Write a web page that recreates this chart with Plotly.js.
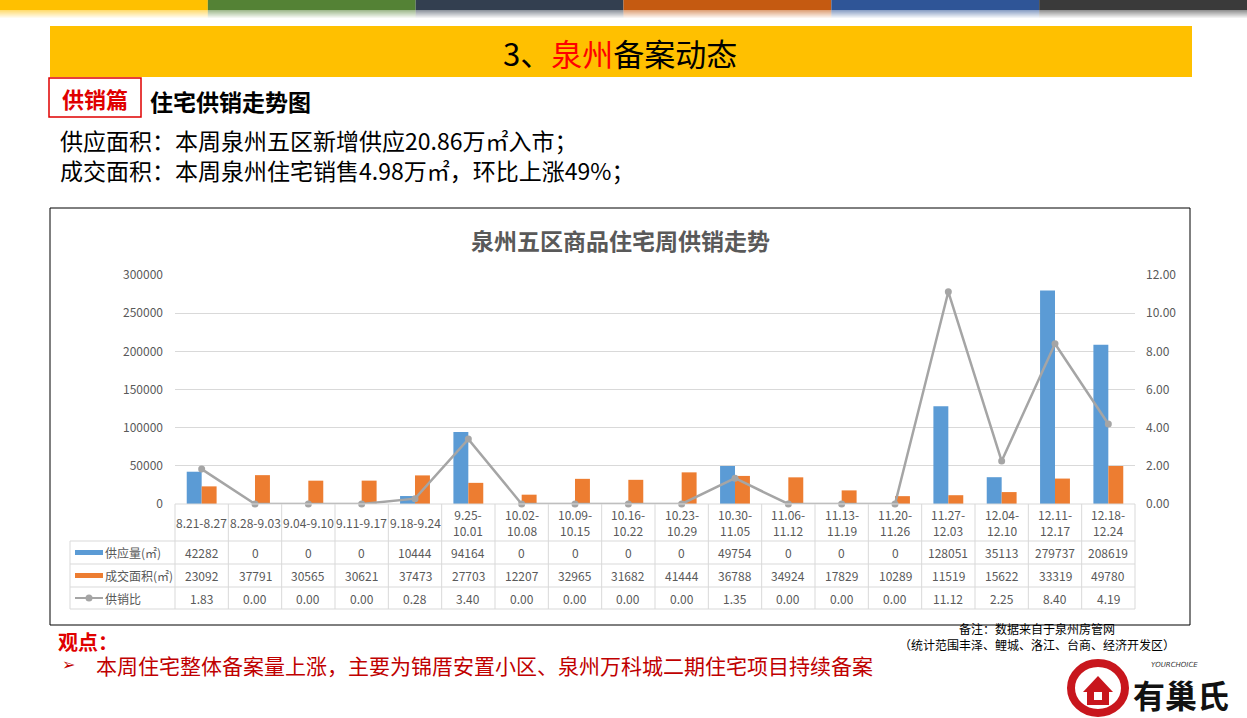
<!DOCTYPE html>
<html>
<head>
<meta charset="utf-8">
<script src="https://cdn.plot.ly/plotly-3.0.1.min.js"></script>
<style>
  html, body { margin: 0; padding: 0; background: #ffffff; }
  #chart { width: 1247px; height: 718px; }
</style>
</head>
<body>
<div id="chart"></div>
<script>
// ---------------- data ----------------
const categories = ['8.21-8.27','8.28-9.03','9.04-9.10','9.11-9.17','9.18-9.24','9.25-10.01','10.02-10.08','10.09-10.15','10.16-10.22','10.23-10.29','10.30-11.05','11.06-11.12','11.13-11.19','11.20-11.26','11.27-12.03','12.04-12.10','12.11-12.17','12.18-12.24'];
const supply = [42282,0,0,0,10444,94164,0,0,0,0,49754,0,0,0,128051,35113,279737,208619];
const deals  = [23092,37791,30565,30621,37473,27703,12207,32965,31682,41444,36788,34924,17829,10289,11519,15622,33319,49780];
const ratio  = [1.83,0,0,0,0.28,3.40,0,0,0,0,1.35,0,0,0,11.12,2.25,8.40,4.19];
const seriesNames = ['供应量(㎡)','成交面积(㎡)','供销比'];
const chartTitle = '泉州五区商品住宅周供销走势';
const stripColors = ['#FFC000','#548235','#333F50','#C55A11','#2F5597','#3A3A3A'];

// ---------------- geometry helpers ----------------
const W = 1247, H = 718;
const X = p => p / W;
const Y = p => 1 - p / H;
const F = 'Noto Sans CJK SC, Noto Sans, DejaVu Sans, sans-serif';
const GREY = '#595959';
const BLUE = '#5B9BD5', ORANGE = '#ED7D31', LINEG = '#A5A5A5';
const plotL = 175, plotR = 1135, plotT = 275, plotB = 504;
const rowEdges = [504, 541, 564, 587, 609];

const shapes = [];
const annotations = [];

// top colour strip with fade
const segW = W / stripColors.length;
stripColors.forEach((c, i) => {
  shapes.push({type:'rect', xref:'paper', yref:'paper', x0:X(i*segW), x1:X((i+1)*segW), y0:Y(10), y1:Y(0), fillcolor:c, line:{width:0}, layer:'below'});
  for (let k = 0; k < 8; k++) {
    shapes.push({type:'rect', xref:'paper', yref:'paper', x0:X(i*segW), x1:X((i+1)*segW), y0:Y(11+k), y1:Y(10+k), fillcolor:c, opacity:0.55*(1-k/8), line:{width:0}, layer:'below'});
  }
});

// yellow banner
shapes.push({type:'rect', xref:'paper', yref:'paper', x0:X(50), x1:X(1192), y0:Y(77), y1:Y(26), fillcolor:'#FFC000', line:{width:0}, layer:'below'});
annotations.push({xref:'paper', yref:'paper', x:X(620), y:Y(52), text:'3、<span style="color:#FF0000">泉州</span>备案动态', showarrow:false, font:{family:F, size:31, color:'#000000'}, xanchor:'center', yanchor:'middle'});

// 供销篇 box
shapes.push({type:'rect', xref:'paper', yref:'paper', x0:X(49), x1:X(141), y0:Y(117), y1:Y(78), fillcolor:'#FFFFFF', line:{color:'#E00000', width:1.5}});
annotations.push({xref:'paper', yref:'paper', x:X(95), y:Y(98), text:'<b>供销篇</b>', showarrow:false, font:{family:F, size:22, color:'#E00000'}, xanchor:'center', yanchor:'middle'});
annotations.push({xref:'paper', yref:'paper', x:X(148), y:Y(101), text:'<b>住宅供销走势图</b>', showarrow:false, font:{family:F, size:23, color:'#000000'}, xanchor:'left', yanchor:'middle'});

// summary lines
annotations.push({xref:'paper', yref:'paper', x:X(58), y:Y(140), text:'供应面积：本周泉州五区新增供应20.86万㎡入市；', showarrow:false, font:{family:F, size:23, color:'#000000'}, xanchor:'left', yanchor:'middle'});
annotations.push({xref:'paper', yref:'paper', x:X(58), y:Y(170), text:'成交面积：本周泉州住宅销售4.98万㎡，环比上涨49%；', showarrow:false, font:{family:F, size:23, color:'#000000'}, xanchor:'left', yanchor:'middle'});

// chart frame
shapes.push({type:'rect', xref:'paper', yref:'paper', x0:X(50), x1:X(1190), y0:Y(625), y1:Y(208), line:{color:'#000000', width:1}, fillcolor:'rgba(0,0,0,0)'});
annotations.push({xref:'paper', yref:'paper', x:X(620), y:Y(240), text:'<b>'+chartTitle+'</b>', showarrow:false, font:{family:F, size:23, color:GREY}, xanchor:'center', yanchor:'middle'});

// ---------------- data table ----------------
const N = categories.length;
const colW = (plotR - plotL) / N;
const TL = '#D9D9D9';
shapes.push({type:'line', xref:'paper', yref:'paper', x0:X(plotL), x1:X(plotR), y0:Y(rowEdges[0]), y1:Y(rowEdges[0]), line:{color:TL, width:1}});
for (let r = 1; r < rowEdges.length; r++) {
  shapes.push({type:'line', xref:'paper', yref:'paper', x0:X(70), x1:X(plotR), y0:Y(rowEdges[r]), y1:Y(rowEdges[r]), line:{color:TL, width:1}});
}
for (let j = 0; j <= N; j++) {
  const xp = plotL + j * colW;
  shapes.push({type:'line', xref:'paper', yref:'paper', x0:X(xp), x1:X(xp), y0:Y(rowEdges[0]), y1:Y(rowEdges[4]), line:{color:TL, width:1}});
}
shapes.push({type:'line', xref:'paper', yref:'paper', x0:X(70), x1:X(70), y0:Y(rowEdges[1]), y1:Y(rowEdges[4]), line:{color:TL, width:1}});

const headerLabel = s => s.length > 9 ? s.replace('-', '-<br>') : s;
const rowMid = r => (rowEdges[r] + rowEdges[r+1]) / 2;
const cellFont = {family:F, size:12, color:GREY};
categories.forEach((c, i) => {
  annotations.push({xref:'x', yref:'paper', x:c, y:Y(rowMid(0)), text:headerLabel(c), showarrow:false, font:cellFont, xanchor:'center', yanchor:'middle'});
  annotations.push({xref:'x', yref:'paper', x:c, y:Y(rowMid(1)), text:String(supply[i]), showarrow:false, font:cellFont, xanchor:'center', yanchor:'middle'});
  annotations.push({xref:'x', yref:'paper', x:c, y:Y(rowMid(2)), text:String(deals[i]), showarrow:false, font:cellFont, xanchor:'center', yanchor:'middle'});
  annotations.push({xref:'x', yref:'paper', x:c, y:Y(rowMid(3)), text:ratio[i].toFixed(2), showarrow:false, font:cellFont, xanchor:'center', yanchor:'middle'});
});
// legend column
const keyColors = [BLUE, ORANGE, LINEG];
seriesNames.forEach((n, k) => {
  const ym = rowMid(k+1);
  if (k < 2) {
    shapes.push({type:'rect', xref:'paper', yref:'paper', x0:X(75), x1:X(103), y0:Y(ym+2.5), y1:Y(ym-2.5), fillcolor:keyColors[k], line:{width:0}});
  } else {
    shapes.push({type:'line', xref:'paper', yref:'paper', x0:X(75), x1:X(103), y0:Y(ym), y1:Y(ym), line:{color:LINEG, width:2}});
    shapes.push({type:'circle', xref:'paper', yref:'paper', x0:X(85.5), x1:X(92.5), y0:Y(ym+3.5), y1:Y(ym-3.5), fillcolor:LINEG, line:{width:0}});
  }
  annotations.push({xref:'paper', yref:'paper', x:X(103), y:Y(ym), text:n, showarrow:false, font:cellFont, xanchor:'left', yanchor:'middle'});
});

// ---------------- bottom texts ----------------
annotations.push({xref:'paper', yref:'paper', x:X(56), y:Y(641), text:'<b>观点：</b>', showarrow:false, font:{family:F, size:20, color:'#E00000'}, xanchor:'left', yanchor:'middle'});
annotations.push({xref:'paper', yref:'paper', x:X(60), y:Y(664), text:'<b>➢</b>', showarrow:false, font:{family:'DejaVu Sans, sans-serif', size:16, color:'#C00000'}, xanchor:'left', yanchor:'middle'});
annotations.push({xref:'paper', yref:'paper', x:X(94), y:Y(665), text:'本周住宅整体备案量上涨，主要为锦厝安置小区、泉州万科城二期住宅项目持续备案', showarrow:false, font:{family:F, size:21, color:'#C00000'}, xanchor:'left', yanchor:'middle'});
annotations.push({xref:'paper', yref:'paper', x:X(1037), y:Y(636), text:'备注：数据来自于泉州房管网<br>（统计范围丰泽、鲤城、洛江、台商、经济开发区）', showarrow:false, font:{family:F, size:12, color:'#000000'}, xanchor:'center', yanchor:'middle', align:'center'});

// logo
shapes.push({type:'circle', xref:'paper', yref:'paper', x0:X(1071), x1:X(1125), y0:Y(713), y1:Y(663), line:{color:'#C8161D', width:8}, fillcolor:'rgba(0,0,0,0)'});
shapes.push({type:'path', xref:'paper', yref:'paper', path:'M '+X(1083)+','+Y(692)+' L '+X(1098)+','+Y(676)+' L '+X(1113)+','+Y(692)+' L '+X(1109)+','+Y(692)+' L '+X(1109)+','+Y(705)+' L '+X(1087)+','+Y(705)+' L '+X(1087)+','+Y(692)+' Z', fillcolor:'#C8161D', line:{width:0}});
shapes.push({type:'rect', xref:'paper', yref:'paper', x0:X(1094), x1:X(1102), y0:Y(700), y1:Y(692), fillcolor:'#FFFFFF', line:{width:0}});
annotations.push({xref:'paper', yref:'paper', x:X(1174), y:Y(665), text:'<i>YOURCHOICE</i>', showarrow:false, font:{family:'DejaVu Sans, sans-serif', size:7, color:'#333333'}, xanchor:'center', yanchor:'middle'});
annotations.push({xref:'paper', yref:'paper', x:X(1181), y:Y(694), text:'<b>有巢氏</b>', showarrow:false, font:{family:F, size:32, color:'#111111'}, xanchor:'center', yanchor:'middle'});

// ---------------- traces ----------------
const traces = [
  {type:'bar', name:seriesNames[0], x:categories, y:supply, marker:{color:BLUE}, yaxis:'y'},
  {type:'bar', name:seriesNames[1], x:categories, y:deals, marker:{color:ORANGE}, yaxis:'y'},
  {type:'scatter', mode:'lines+markers', name:seriesNames[2], x:categories, y:ratio, yaxis:'y2',
   line:{color:LINEG, width:2.5}, marker:{color:LINEG, size:7}, cliponaxis:false}
];

const layout = {
  width: W, height: H,
  margin: {l:0, r:0, t:0, b:0},
  paper_bgcolor: '#FFFFFF', plot_bgcolor: 'rgba(0,0,0,0)',
  showlegend: false,
  barmode: 'group', bargap: 0.44, bargroupgap: 0,
  font: {family: F},
  xaxis: {domain:[X(plotL), X(plotR)], type:'category', range:[-0.5, N-0.5], showticklabels:false, showgrid:false, zeroline:false, showline:false, ticks:''},
  yaxis: {domain:[Y(plotB), Y(plotT)], range:[0, 300000], dtick:50000, tickformat:'d', gridcolor:'#D9D9D9', gridwidth:1, zeroline:false, showline:false, ticks:'', tickfont:{family:F, size:12, color:GREY}, ticklabelstandoff:11},
  yaxis2: {overlaying:'y', side:'right', anchor:'x', range:[0, 12], dtick:2, tickformat:'.2f', showgrid:false, zeroline:false, showline:false, ticks:'', tickfont:{family:F, size:12, color:GREY}, ticklabelstandoff:10},
  shapes: shapes,
  annotations: annotations
};

Plotly.newPlot('chart', traces, layout, {displayModeBar:false, staticPlot:true});
</script>
</body>
</html>
